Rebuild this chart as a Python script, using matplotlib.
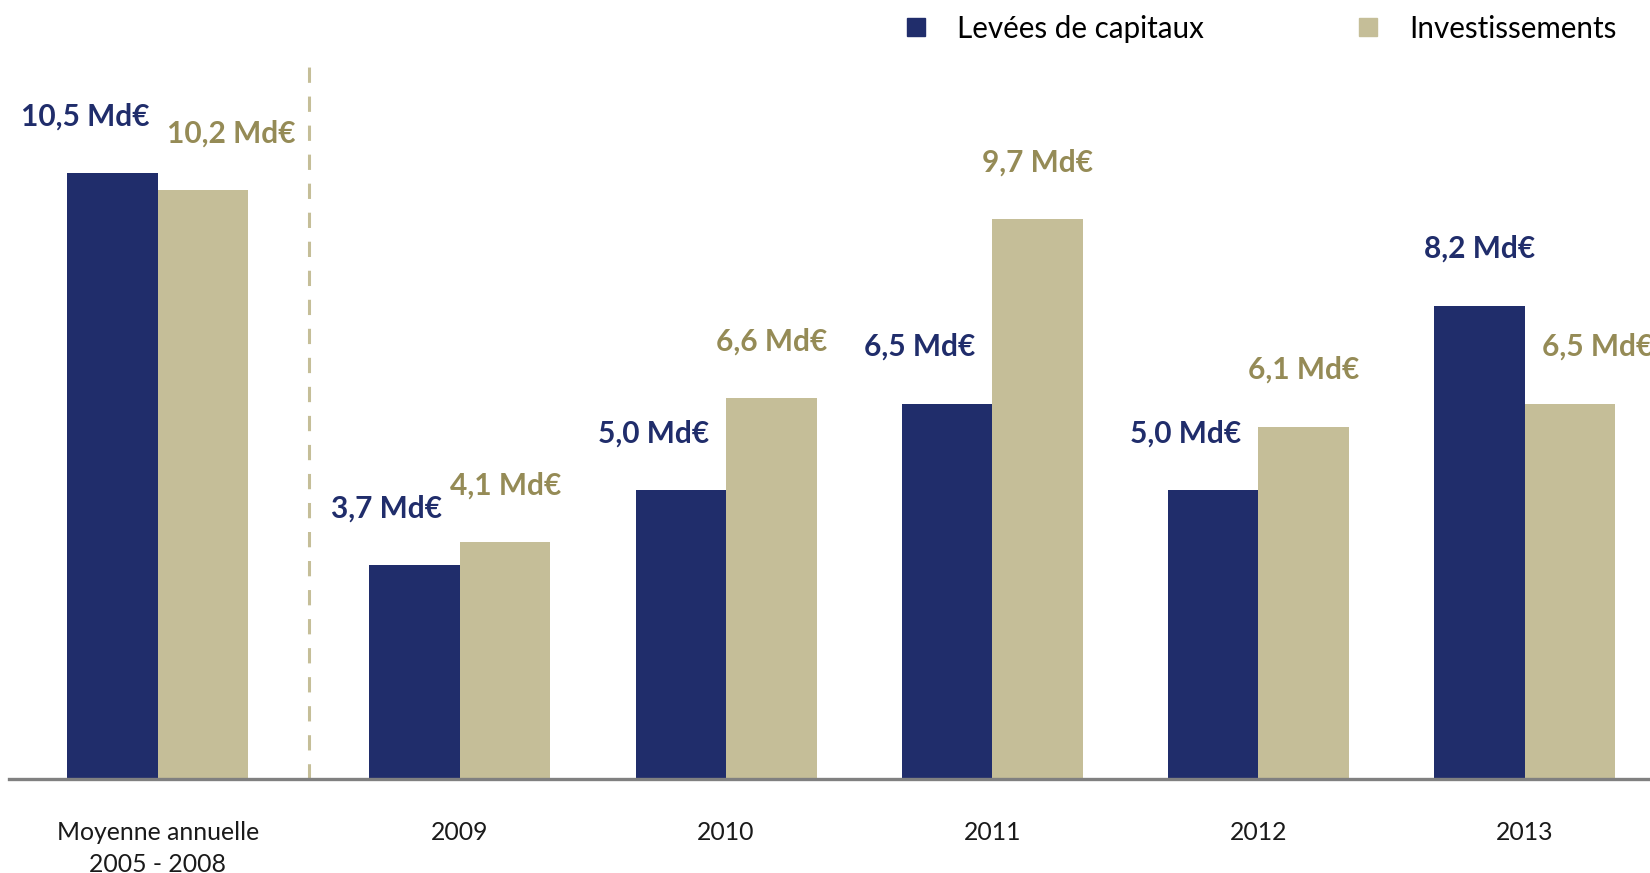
import numpy as np
import matplotlib
matplotlib.use('Agg')
import matplotlib.pyplot as plt
from matplotlib.lines import Line2D

categories = ['Moyenne annuelle\n2005 - 2008', '2009', '2010', '2011', '2012', '2013']
levees = [10.5, 3.7, 5.0, 6.5, 5.0, 8.2]
investissements = [10.2, 4.1, 6.6, 9.7, 6.1, 6.5]
series_names = ['Levées de capitaux', 'Investissements']

dark = '#202D6B'
light = '#C5BE98'
light_txt = '#958B56'

plt.rcParams['font.family'] = ['Lato', 'DejaVu Sans']

fig = plt.figure(figsize=(16.5, 8.73), dpi=100)
ax = fig.add_axes([0, 94 / 873, 1, 779 / 873])

x = np.arange(len(categories)) + np.where(np.arange(len(categories)) > 0, 0.135, 0.0)
w = 0.34

ax.bar(x - w / 2, levees, w, color=dark)
ax.bar(x + w / 2, investissements, w, color=light)

def fmt(v):
    return f'{v:.1f}'.replace('.', ',') + ' Md€'

# horizontal shift of the labels in points (as in the original slide)
dark_dx = [-20, -20, -20, -20, -20, 0]
light_dx = [20, 0, 0, 0, 0, 20]
for i in range(len(categories)):
    ax.annotate(fmt(levees[i]), (x[i] - w / 2, levees[i]), xytext=(dark_dx[i], 41),
                textcoords='offset points', ha='center', va='center',
                fontsize=21.5, fontweight='bold', color=dark)
    ax.annotate(fmt(investissements[i]), (x[i] + w / 2, investissements[i]),
                xytext=(light_dx[i], 41), textcoords='offset points', ha='center',
                va='center', fontsize=21.5, fontweight='bold', color=light_txt,
                annotation_clip=False)

ax.set_xlim(-0.593, 5.606)
ax.set_ylim(0, 13.5)

# baseline and separator
ax.plot([-0.561, 5.606], [0, 0], color='#808080', lw=2.4, clip_on=False, zorder=3)
ax.plot([(x[0] + x[1]) / 2] * 2, [0, 12.37], color=light, lw=2.2,
        dashes=(5, 4.5), zorder=1)

ax.set_xticks(x)
ax.set_xticklabels(categories, fontsize=17.8, color='#1a1a1a', linespacing=1.5)
ax.tick_params(axis='x', length=0, pad=30)
ax.set_yticks([])
for s in ax.spines.values():
    s.set_visible(False)

handles = [Line2D([], [], marker='s', ls='', color=dark, markersize=13),
           Line2D([], [], marker='s', ls='', color=light, markersize=13)]
fig.legend(handles, series_names, loc='center right', bbox_to_anchor=(0.996, 0.967),
           ncol=2, frameon=False, fontsize=21.3, handletextpad=0.9,
           columnspacing=5.05, handlelength=1.0)

fig.savefig('out.png', dpi=100)
